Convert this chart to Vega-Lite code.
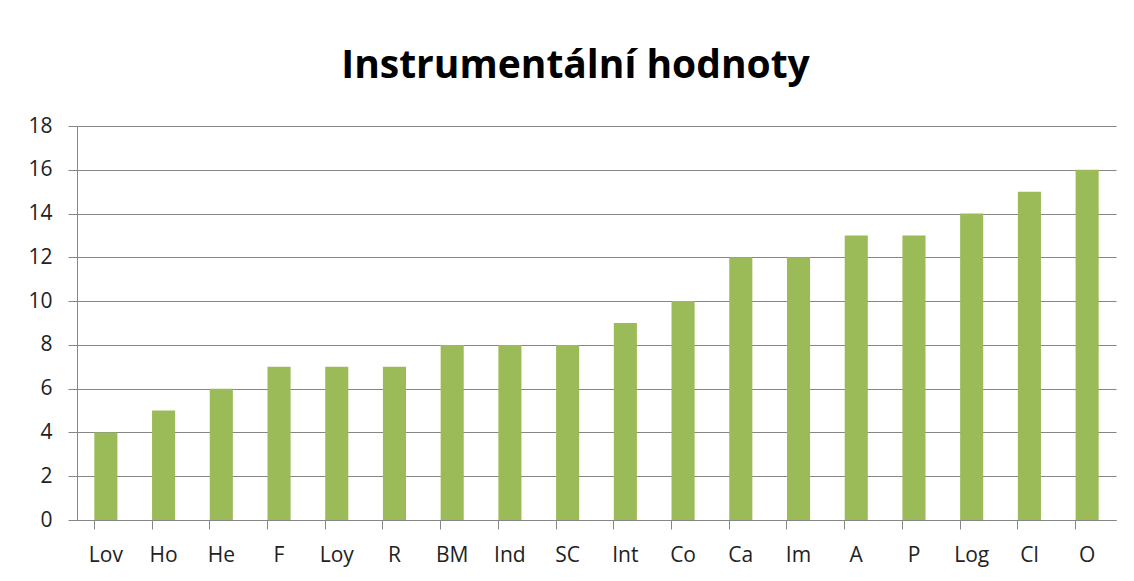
{
  "$schema": "https://vega.github.io/schema/vega-lite/v6.json",
  "autosize": {"type": "none"},
  "width": 1039,
  "height": 394,
  "padding": {"left": 77, "top": 126, "right": 18, "bottom": 61},
  "background": "white",
  "title": {
    "text": "Instrumentální hodnoty",
    "font": "Open Sans",
    "fontSize": 39,
    "fontWeight": "bold",
    "color": "#000000",
    "anchor": "middle",
    "dx": -21,
    "offset": 29
  },
  "data": {
    "values": [
      {"k": "Lov", "v": 4},
      {"k": "Ho", "v": 5},
      {"k": "He", "v": 6},
      {"k": "F", "v": 7},
      {"k": "Loy", "v": 7},
      {"k": "R", "v": 7},
      {"k": "BM", "v": 8},
      {"k": "Ind", "v": 8},
      {"k": "SC", "v": 8},
      {"k": "Int", "v": 9},
      {"k": "Co", "v": 10},
      {"k": "Ca", "v": 12},
      {"k": "Im", "v": 12},
      {"k": "A", "v": 13},
      {"k": "P", "v": 13},
      {"k": "Log", "v": 14},
      {"k": "Cl", "v": 15},
      {"k": "O", "v": 16}
    ]
  },
  "mark": {"type": "bar", "color": "#9BBB59"},
  "encoding": {
    "x": {
      "field": "k",
      "type": "nominal",
      "sort": null,
      "scale": {"paddingInner": 0.6, "paddingOuter": 0.3},
      "axis": {
        "title": null,
        "labelAngle": 0,
        "labelFont": "Open Sans",
        "labelFontSize": 21,
        "labelColor": "#222222",
        "labelPadding": 15,
        "tickSize": 9,
        "tickColor": "#868686",
        "domainColor": "#868686",
        "bandPosition": 0,
        "grid": false
      }
    },
    "y": {
      "field": "v",
      "type": "quantitative",
      "scale": {"domain": [0, 18], "nice": false},
      "axis": {
        "title": null,
        "values": [0, 2, 4, 6, 8, 10, 12, 14, 16, 18],
        "labelFont": "Open Sans",
        "labelFontSize": 21,
        "labelColor": "#222222",
        "labelPadding": 16,
        "tickSize": 9,
        "tickColor": "#868686",
        "domainColor": "#868686",
        "gridColor": "#868686",
        "gridOpacity": 1
      }
    }
  },
  "config": {"view": {"stroke": null}}
}
